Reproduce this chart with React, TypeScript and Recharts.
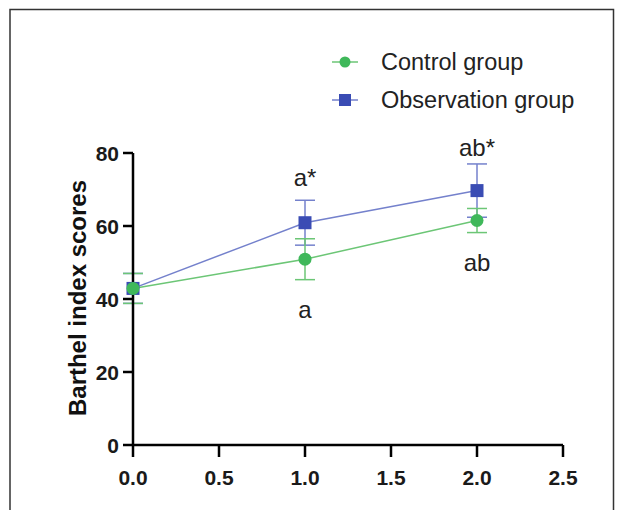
import React from 'react';
import { LineChart, Line, XAxis, YAxis, ErrorBar, ReferenceDot, Customized } from 'recharts';

const timePoints = [0, 1, 2];
const controlMean = [42.9, 50.9, 61.5];
const controlErr = [4.1, 5.6, 3.3];
const observationMean = [42.9, 60.9, 69.7];
const observationErr = [4.1, 6.15, 7.3];
const xTicks = [0, 0.5, 1, 1.5, 2, 2.5];
const yTicks = [0, 20, 40, 60, 80];
const annotationX = [1, 1, 2, 2];
const annotationY = [73.2, 37, 81.4, 50.1];
const annotationText = ['a*', 'a', 'ab*', 'ab'];
const legendLabels = ['Control group', 'Observation group'];

const GREEN = '#3fb85a';
const GREEN_LINE = '#6cc676';
const BLUE = '#3a4cb4';
const BLUE_LINE = '#7481cc';
const FONT = 'Liberation Sans, Arial, sans-serif';

const data = timePoints.map((t, i) => ({
  x: t,
  control: controlMean[i],
  controlErr: controlErr[i],
  observation: observationMean[i],
  observationErr: observationErr[i],
}));

const SquareDot = (props: any) => {
  const { cx, cy, index } = props;
  if (cx == null || cy == null) return <g key={`sq-${index}`} />;
  return <rect key={`sq-${index}`} x={cx - 6.5} y={cy - 6.5} width={13} height={13} fill={BLUE} />;
};

const CircleDot = (props: any) => {
  const { cx, cy, index } = props;
  if (cx == null || cy == null) return <g key={`ci-${index}`} />;
  return <circle key={`ci-${index}`} cx={cx} cy={cy} r={6.5} fill={GREEN} />;
};

const XTick = (props: any) => {
  const { x, y, payload } = props;
  return (
    <text x={x} y={y + 18} textAnchor="middle" dominantBaseline="central" fontFamily={FONT} fontWeight="bold" fontSize={21} fill="#1a1a1a">
      {Number(payload.value).toFixed(1)}
    </text>
  );
};

const YTick = (props: any) => {
  const { x, y, payload } = props;
  return (
    <text x={x - 2} y={y} textAnchor="end" dominantBaseline="central" fontFamily={FONT} fontWeight="bold" fontSize={21} fill="#1a1a1a">
      {payload.value}
    </text>
  );
};

const Decorations = () => (
  <g>
    <path d="M10,520 L10,9.5 L613.5,9.5 L613.5,520" fill="none" stroke="#333" strokeWidth={1.5} />
    <text
      x={0}
      y={0}
      transform="translate(77,298) rotate(-90)"
      textAnchor="middle"
      dominantBaseline="central"
      fontFamily={FONT}
      fontWeight="bold"
      fontSize={24}
      fill="#111"
    >
      Barthel index scores
    </text>
    <line x1={332} x2={358} y1={62} y2={62} stroke={GREEN_LINE} strokeWidth={1.5} />
    <circle cx={345} cy={62} r={5.5} fill={GREEN} />
    <text x={381} y={62} dominantBaseline="central" fontFamily={FONT} fontSize={23.5} fill="#222">
      {legendLabels[0]}
    </text>
    <line x1={332} x2={358} y1={100} y2={100} stroke={BLUE_LINE} strokeWidth={1.5} />
    <rect x={339} y={94} width={12} height={12} fill={BLUE} />
    <text x={381} y={100} dominantBaseline="central" fontFamily={FONT} fontSize={23.5} fill="#222">
      {legendLabels[1]}
    </text>
  </g>
);

export default function App() {
  return (
    <div style={{ position: 'absolute', left: 0, top: 0, background: '#fff' }}>
      <LineChart width={618} height={510} data={data} margin={{ top: 153, right: 55, bottom: 35, left: 73 }}>
        <XAxis
          dataKey="x"
          type="number"
          domain={[0, 2.5]}
          ticks={xTicks}
          axisLine={{ stroke: '#000', strokeWidth: 2.5 }}
          tickLine={{ stroke: '#000', strokeWidth: 2.5 }}
          tickSize={12}
          tickMargin={2}
          tick={XTick}
          height={30}
          interval={0}
        />
        <YAxis
          type="number"
          domain={[0, 80]}
          ticks={yTicks}
          axisLine={{ stroke: '#000', strokeWidth: 2.5 }}
          tickLine={{ stroke: '#000', strokeWidth: 2.5 }}
          tickSize={10}
          tickMargin={2}
          tick={YTick}
          width={60}
          interval={0}
        />
        <Line
          dataKey="observation"
          stroke={BLUE_LINE}
          strokeWidth={1.5}
          dot={SquareDot}
          activeDot={false}
          isAnimationActive={false}
        >
          <ErrorBar dataKey="observationErr" direction="y" width={10} stroke={BLUE_LINE} strokeWidth={1.5} />
        </Line>
        <Line
          dataKey="control"
          stroke={GREEN_LINE}
          strokeWidth={1.5}
          dot={CircleDot}
          activeDot={false}
          isAnimationActive={false}
        >
          <ErrorBar dataKey="controlErr" direction="y" width={10} stroke={GREEN_LINE} strokeWidth={1.5} />
        </Line>
        {annotationText.map((t, i) => (
          <ReferenceDot
            key={t}
            x={annotationX[i]}
            y={annotationY[i]}
            r={0}
            fill="none"
            stroke="none"
            ifOverflow="visible"
            label={{ value: t, position: 'center', fontSize: 24, fill: '#222', fontFamily: FONT }}
          />
        ))}
        <Customized component={Decorations} />
      </LineChart>
    </div>
  );
}
